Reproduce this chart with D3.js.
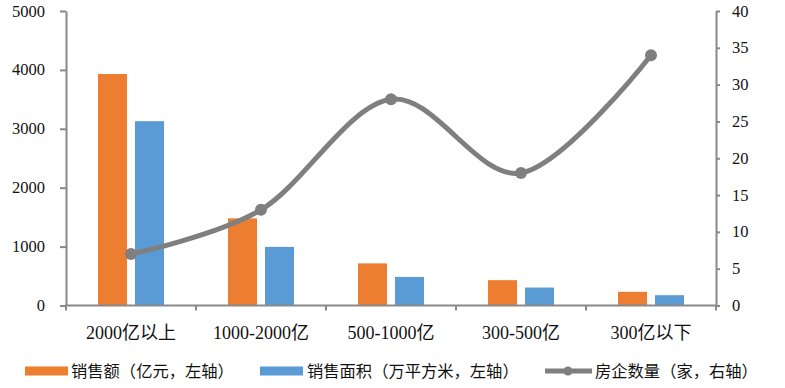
<!DOCTYPE html>
<html>
<head>
<meta charset="utf-8">
<script src="https://cdn.jsdelivr.net/npm/d3@7"></script>
<style>
  body { margin: 0; background: #fff; }
  .axis path, .axis line { stroke: #898989; stroke-width: 2; }
</style>
</head>
<body>
<script>
// chart data
var categories = ['2000亿以上', '1000-2000亿', '500-1000亿', '300-500亿', '300亿以下'];
var salesAmount = [3930, 1480, 715, 430, 232];   // 销售额（亿元）
var salesArea = [3130, 995, 485, 305, 175];      // 销售面积（万平方米）
var companyCount = [7, 13, 28, 18, 34];           // 房企数量（家）
var leftTicks = [0, 1000, 2000, 3000, 4000, 5000];
var rightTicks = [0, 5, 10, 15, 20, 25, 30, 35, 40];
var legendNames = ['销售额（亿元，左轴）', '销售面积（万平方米，左轴）', '房企数量（家，右轴）'];

var serif = "'Liberation Serif', 'Noto Sans CJK SC', serif";
var cjk = "'Noto Sans CJK SC', sans-serif";

window.onload = setChart();

function setChart(){
    var width = 785,
        height = 388;
    var left = 66, right = 716, top = 11, bottom = 305.5;

    var svg = d3.select('body')
        .append('svg')
        .attr('width', width)
        .attr('height', height);

    //scales
    var x = d3.scaleBand()
        .domain(categories)
        .range([left, right])
        .padding(0);

    var bw = x.bandwidth();
    var x1 = d3.scaleBand()
        .domain(['amount', 'area'])
        .range([bw / 2 - 33, bw / 2 + 33])
        .paddingInner(0.216);

    var yLeft = d3.scaleLinear().domain([0, 5000]).range([bottom, top]);
    var yRight = d3.scaleLinear().domain([0, 40]).range([bottom, top]);

    //left axis
    svg.append('g')
        .attr('class', 'axis')
        .attr('transform', 'translate(' + left + ',0)')
        .call(d3.axisLeft(yLeft).tickValues(leftTicks).tickSize(6).tickSizeOuter(0).tickFormat(''));
    svg.selectAll('.leftLabel')
        .data(leftTicks)
        .enter()
        .append('text')
        .attr('font-family', serif)
        .attr('font-size', 16.5)
        .attr('fill', '#111')
        .attr('x', 45)
        .attr('y', function(d){ return yLeft(d) + 5.5; })
        .attr('text-anchor', 'end')
        .text(function(d){ return d; });

    //right axis
    svg.append('g')
        .attr('class', 'axis')
        .attr('transform', 'translate(' + right + ',0)')
        .call(d3.axisRight(yRight).tickValues(rightTicks).tickSize(4).tickSizeOuter(0).tickFormat(''));
    svg.selectAll('.rightLabel')
        .data(rightTicks)
        .enter()
        .append('text')
        .attr('font-family', serif)
        .attr('font-size', 16.5)
        .attr('fill', '#111')
        .attr('x', 732)
        .attr('y', function(d){ return yRight(d) + 5.5; })
        .text(function(d){ return d; });

    //bars
    var groups = svg.selectAll('.group')
        .data(categories)
        .enter()
        .append('g')
        .attr('transform', function(d){ return 'translate(' + x(d) + ',0)'; });

    groups.append('rect')
        .attr('x', x1('amount'))
        .attr('width', x1.bandwidth())
        .attr('y', function(d, i){ return yLeft(salesAmount[i]); })
        .attr('height', function(d, i){ return bottom - yLeft(salesAmount[i]); })
        .attr('fill', '#ED7D31');

    groups.append('rect')
        .attr('x', x1('area'))
        .attr('width', x1.bandwidth())
        .attr('y', function(d, i){ return yLeft(salesArea[i]); })
        .attr('height', function(d, i){ return bottom - yLeft(salesArea[i]); })
        .attr('fill', '#5B9BD5');

    //bottom axis with ticks on category boundaries
    var bottomAxis = svg.append('g').attr('class', 'axis');
    bottomAxis.append('line')
        .attr('x1', left - 1).attr('x2', right + 1)
        .attr('y1', bottom).attr('y2', bottom);
    var bounds = categories.map(function(d){ return x(d); }).concat([right]);
    bottomAxis.selectAll('.tickMark')
        .data(bounds)
        .enter()
        .append('line')
        .attr('x1', function(d){ return d; })
        .attr('x2', function(d){ return d; })
        .attr('y1', bottom)
        .attr('y2', bottom + 5);

    svg.selectAll('.catLabel')
        .data(categories)
        .enter()
        .append('text')
        .attr('font-family', serif)
        .attr('font-size', 18)
        .attr('fill', '#111')
        .attr('x', function(d){ return x(d) + bw / 2; })
        .attr('y', 339)
        .attr('text-anchor', 'middle')
        .text(function(d){ return d; });

    //smoothed line for company count
    var line = d3.line()
        .x(function(d, i){ return x(categories[i]) + bw / 2; })
        .y(function(d){ return yRight(d); })
        .curve(d3.curveCardinal.tension(0));

    svg.append('path')
        .datum(companyCount)
        .attr('d', line)
        .attr('fill', 'none')
        .attr('stroke', '#7F7F7F')
        .attr('stroke-width', 5);

    svg.selectAll('.dot')
        .data(companyCount)
        .enter()
        .append('circle')
        .attr('cx', function(d, i){ return x(categories[i]) + bw / 2; })
        .attr('cy', function(d){ return yRight(d); })
        .attr('r', 6)
        .attr('fill', '#7F7F7F');

    //legend
    var ly = 371;
    svg.append('rect').attr('x', 25).attr('y', ly - 4.5).attr('width', 43).attr('height', 9).attr('fill', '#ED7D31');
    svg.append('rect').attr('x', 260).attr('y', ly - 4.5).attr('width', 43).attr('height', 9).attr('fill', '#5B9BD5');
    svg.append('line').attr('x1', 545).attr('x2', 592).attr('y1', ly).attr('y2', ly)
        .attr('stroke', '#7F7F7F').attr('stroke-width', 5);
    svg.append('circle').attr('cx', 568).attr('cy', ly).attr('r', 4.5).attr('fill', '#7F7F7F');

    var legendX = [71, 307, 595];
    svg.selectAll('.legendText')
        .data(legendNames)
        .enter()
        .append('text')
        .attr('font-family', cjk)
        .attr('font-size', 16.3)
        .attr('fill', '#111')
        .attr('x', function(d, i){ return legendX[i]; })
        .attr('y', ly + 6)
        .text(function(d){ return d; });
};
</script>
</body>
</html>
